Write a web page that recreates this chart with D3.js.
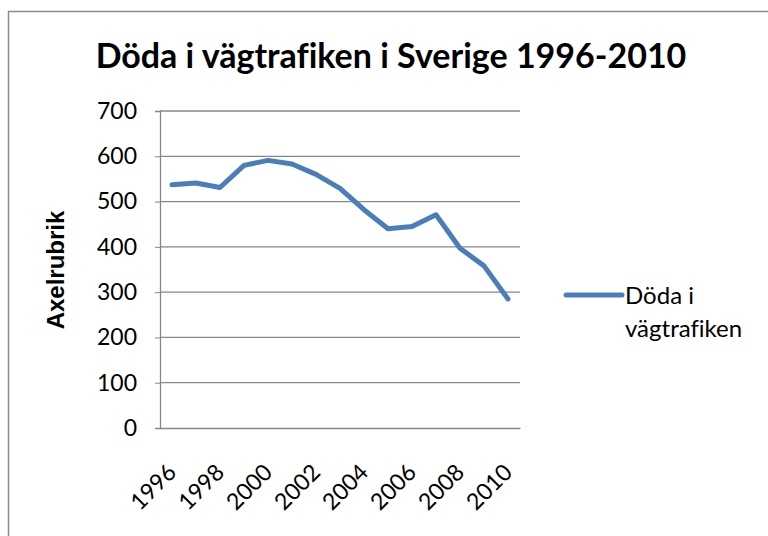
<!DOCTYPE html>
<html>
<head>
<meta charset="utf-8">
<script src="https://cdn.jsdelivr.net/npm/d3@7"></script>
<style>
  body { margin: 0; background: #fff; }
  text { font-family: Lato, "Open Sans", sans-serif; fill: #000; font-variant-ligatures: none; }
</style>
</head>
<body>
<div id="chart"></div>
<script>
// data
var years = [1996, 1997, 1998, 1999, 2000, 2001, 2002, 2003, 2004, 2005, 2006, 2007, 2008, 2009, 2010];
var deaths = [537, 541, 531, 580, 591, 583, 560, 529, 482, 440, 445, 471, 397, 358, 285];
var yTicks = [0, 100, 200, 300, 400, 500, 600, 700];
var xTickLabels = [1996, 1998, 2000, 2002, 2004, 2006, 2008, 2010];
var seriesName = "Döda i vägtrafiken";
var title = "Döda i vägtrafiken i Sverige 1996-2010";
var yTitle = "Axelrubrik";

var W = 768, H = 536;
var margin = {top: 111, right: 248, bottom: 108, left: 160},
    width = W - margin.left - margin.right,
    height = H - margin.top - margin.bottom;

var svg = d3.select("#chart")
  .append("svg")
    .attr("width", W)
    .attr("height", H);

// outer chart frame
svg.append("rect")
  .attr("x", 8.5).attr("y", 11.5)
  .attr("width", W + 20).attr("height", H + 20)
  .attr("fill", "none")
  .attr("stroke", "#8c8c8c")
  .attr("stroke-width", 1.5);

// title
svg.append("text")
  .attr("x", 391).attr("y", 68)
  .attr("text-anchor", "middle")
  .style("font-weight", "bold")
  .style("font-size", "34px")
  .text(title);

var g = svg.append("g")
  .attr("transform", "translate(" + margin.left + "," + margin.top + ")");

// X scale: categories
var x = d3.scaleBand()
  .domain(years)
  .range([0, width]);

var y = d3.scaleLinear()
  .domain([0, 700])
  .range([height, 0]);

// gridlines
g.append("g")
  .selectAll("line")
  .data(yTicks.slice(1))
  .enter()
  .append("line")
    .attr("x1", 0).attr("x2", width)
    .attr("y1", function(d) { return y(d) }).attr("y2", function(d) { return y(d) })
    .attr("stroke", "#868686")
    .attr("stroke-width", 1.3);

// Y axis
var yAxis = g.append("g")
  .call(d3.axisLeft(y).tickValues(yTicks).tickSize(5).tickPadding(18));
yAxis.select(".domain").attr("stroke", "#868686").attr("stroke-width", 1.3);
yAxis.selectAll(".tick line").attr("stroke", "#868686");
yAxis.selectAll("text")
  .style("font-size", "23px")
  .style("font-family", "Lato, sans-serif");

// X axis
var xAxis = g.append("g")
  .attr("transform", "translate(0," + height + ")")
  .call(d3.axisBottom(x).tickSize(0).tickFormat(""));
xAxis.select(".domain").attr("stroke", "#868686").attr("stroke-width", 1.3);

g.append("g")
  .selectAll("text")
  .data(xTickLabels)
  .enter()
  .append("text")
    .attr("transform", function(d) {
      return "translate(" + (x(d) + x.bandwidth() / 2) + "," + (height + 40) + ") rotate(-45)";
    })
    .attr("text-anchor", "end")
    .attr("dy", "0.35em")
    .style("font-size", "23px")
    .text(function(d) { return d; });

// Y axis title
svg.append("text")
  .attr("transform", "translate(64,270) rotate(-90)")
  .attr("text-anchor", "middle")
  .style("font-family", "'Liberation Sans', Arial, sans-serif")
  .style("font-weight", "bold")
  .style("font-size", "24px")
  .text(yTitle);

// the line
g.append("path")
  .datum(years.map(function(d, i) { return {year: d, value: deaths[i]} }))
  .attr("d", d3.line()
    .x(function(d) { return x(d.year) + x.bandwidth() / 2 })
    .y(function(d) { return y(d.value) })
  )
  .attr("fill", "none")
  .attr("stroke", "#4a7ebb")
  .attr("stroke-width", 5)
  .attr("stroke-linecap", "round")
  .attr("stroke-linejoin", "round");

// legend
var legend = svg.append("g").attr("transform", "translate(566,295)");
legend.append("line")
  .attr("x1", 0).attr("x2", 56)
  .attr("stroke", "#4a7ebb")
  .attr("stroke-width", 5)
  .attr("stroke-linecap", "round");
var lt = legend.append("text")
  .attr("x", 59).attr("y", 9)
  .style("font-size", "24px");
lt.append("tspan").attr("x", 59).text("Döda i");
lt.append("tspan").attr("x", 59).attr("dy", 33).text("vägtrafiken");
</script>
</body>
</html>
